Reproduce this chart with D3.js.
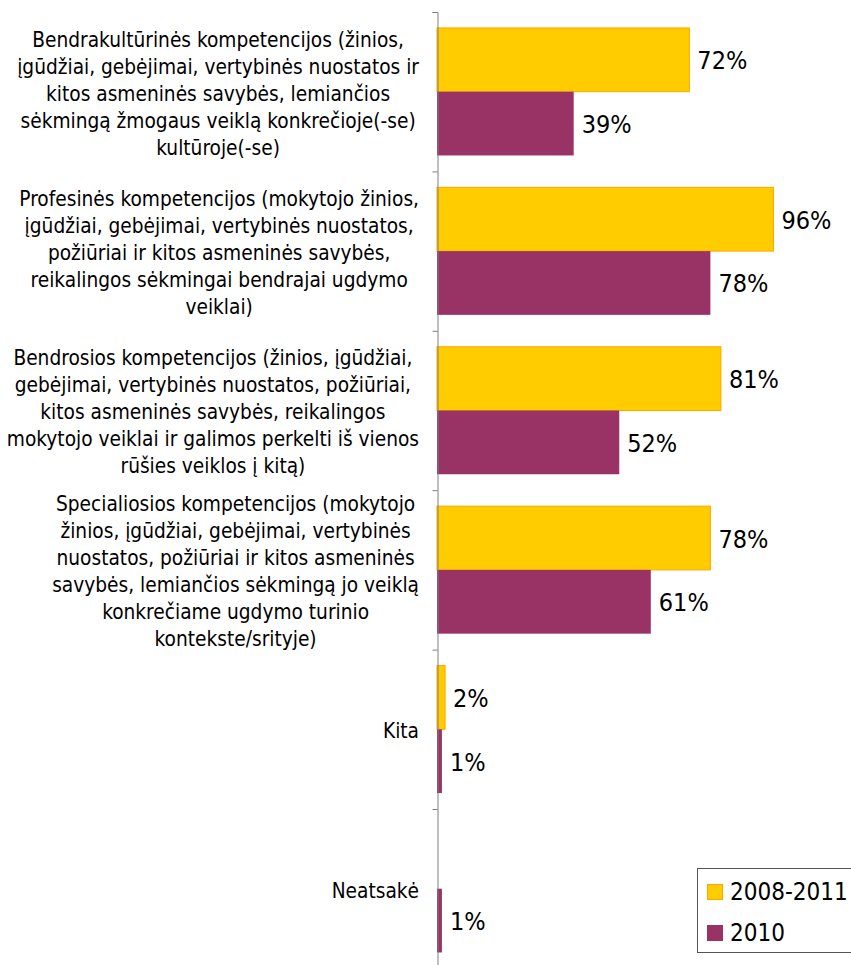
<!DOCTYPE html>
<html>
<head>
<meta charset="utf-8">
<script src="https://cdn.jsdelivr.net/npm/d3@7"></script>
<style>
  body { margin: 0; background: #fff; }
  svg { display: block; font-family: 'DejaVu Sans Condensed', 'DejaVu Sans', sans-serif; }
</style>
</head>
<body>
<svg id="svg1" width="851" height="965"></svg>
<script>
// categories, one array of lines per label (wrapped as in the original)
var categories = [
  ["Bendrakultūrinės kompetencijos (žinios,", "įgūdžiai, gebėjimai, vertybinės nuostatos ir", "kitos asmeninės savybės, lemiančios", "sėkmingą žmogaus veiklą konkrečioje(-se)", "kultūroje(-se)"],
  ["Profesinės kompetencijos (mokytojo žinios,", "įgūdžiai, gebėjimai, vertybinės nuostatos,", "požiūriai ir kitos asmeninės savybės,", "reikalingos sėkmingai bendrajai ugdymo", "veiklai)"],
  ["Bendrosios kompetencijos (žinios, įgūdžiai,", "gebėjimai, vertybinės nuostatos, požiūriai,", "kitos asmeninės savybės, reikalingos", "mokytojo veiklai ir galimos perkelti iš vienos", "rūšies veiklos į kitą)"],
  ["Specialiosios kompetencijos (mokytojo", "žinios, įgūdžiai, gebėjimai, vertybinės", "nuostatos, požiūriai ir kitos asmeninės", "savybės, lemiančios sėkmingą jo veiklą", "konkrečiame ugdymo turinio", "kontekste/srityje)"],
  ["Kita"],
  ["Neatsakė"]
];
var series = ["2008-2011", "2010"];
var values2008 = [72, 96, 81, 78, 2.3, null];
var values2010 = [39, 78, 52, 61, 1.4, 1.4];
var colors = ["#FFCC00", "#993366"];

var svg = d3.select('#svg1');

var axisX = 437;
var top0 = 12, step = 159.4;

var catIdx = d3.range(categories.length);

var y0 = d3.scaleBand()
    .domain(catIdx)
    .range([top0, top0 + step * categories.length])
    .padding(0);

var y1 = d3.scaleBand()
    .domain(series)
    .range([0, y0.bandwidth()])
    .paddingInner(0)
    .paddingOuter(0.25);

var x = d3.scaleLinear()
    .domain([0, 100])
    .range([axisX, axisX + 350.5]);

var fmt = function(v) { return d3.format(".0f")(v) + "%"; };

// rows of data
var rows = catIdx.map(function(i) {
  return {i: i, vals: [
    {s: series[0], v: values2008[i], c: colors[0]},
    {s: series[1], v: values2010[i], c: colors[1]}
  ]};
});

var groups = svg.selectAll('g.cat')
    .data(rows)
    .enter()
    .append('g')
    .attr('class', 'cat')
    .attr('transform', function(d) { return 'translate(0,' + y0(d.i) + ')'; });

var bars = groups.selectAll('g.bar')
    .data(function(d) { return d.vals.filter(function(b) { return b.v != null; }); })
    .enter()
    .append('g')
    .attr('class', 'bar');

bars.append('rect')
    .attr('x', x(0))
    .attr('y', function(d) { return y1(d.s); })
    .attr('width', function(d) { return x(d.v) - x(0); })
    .attr('height', y1.bandwidth())
    .attr('fill', function(d) { return d.c; })
    .attr('stroke', function(d) { return d.s == series[0] ? '#FFA500' : 'none'; })
    .attr('stroke-width', 1);

bars.append('text')
    .attr('x', function(d) { return x(d.v) + 8; })
    .attr('y', function(d) { return y1(d.s) + y1.bandwidth() / 2 + 9.5; })
    .attr('font-size', 25)
    .attr('fill', '#000')
    .text(function(d) { return fmt(d.v); });

// axis with ticks at category boundaries
var bound = d3.scaleLinear().domain([0, categories.length]).range(y0.range());
svg.append('g')
    .attr('transform', 'translate(' + (axisX + 0.5) + ',0)')
    .call(d3.axisLeft(bound).ticks(categories.length).tickFormat('').tickSize(5).tickSizeOuter(5))
    .call(function(g) {
      g.selectAll('path, line').attr('stroke', '#7f7f7f');
    });

// category labels: lines centred, block right-aligned near the axis
var labelRight = 419, lineH = 27, sx = 0.94;
groups.each(function(d) {
  var lines = categories[d.i];
  var cy = y0.bandwidth() / 2 + 1;
  var g = d3.select(this).append('g')
      .attr('transform', 'translate(' + labelRight + ',0) scale(' + sx + ',1)');
  var texts = g.selectAll('text')
      .data(lines)
      .enter()
      .append('text')
      .attr('font-size', 22)
      .attr('text-anchor', 'middle')
      .attr('y', function(l, k) { return cy + 8 + (k - (lines.length - 1) / 2) * lineH; })
      .text(function(l) { return l; });
  var maxW = 0;
  texts.each(function() { maxW = Math.max(maxW, this.getComputedTextLength()); });
  texts.attr('x', -maxW / 2);
});

// legend
var legend = svg.append('g').attr('transform', 'translate(697,868)');
legend.append('rect')
    .attr('x', 0.5).attr('y', 0.5)
    .attr('width', 170).attr('height', 84)
    .attr('fill', '#fff')
    .attr('stroke', '#555');

var items = legend.selectAll('g.item')
    .data(series)
    .enter()
    .append('g')
    .attr('class', 'item')
    .attr('transform', function(d, i) { return 'translate(10,' + (16 + i * 41) + ')'; });

items.append('rect')
    .attr('x', 0.5).attr('y', 0.5)
    .attr('width', 15).attr('height', 15)
    .attr('fill', function(d, i) { return colors[i]; })
    .attr('stroke', function(d, i) { return i == 0 ? '#FFA500' : colors[i]; });

items.append('text')
    .attr('x', 23)
    .attr('y', 16)
    .attr('font-size', 24)
    .text(function(d) { return d; });
</script>
</body>
</html>
